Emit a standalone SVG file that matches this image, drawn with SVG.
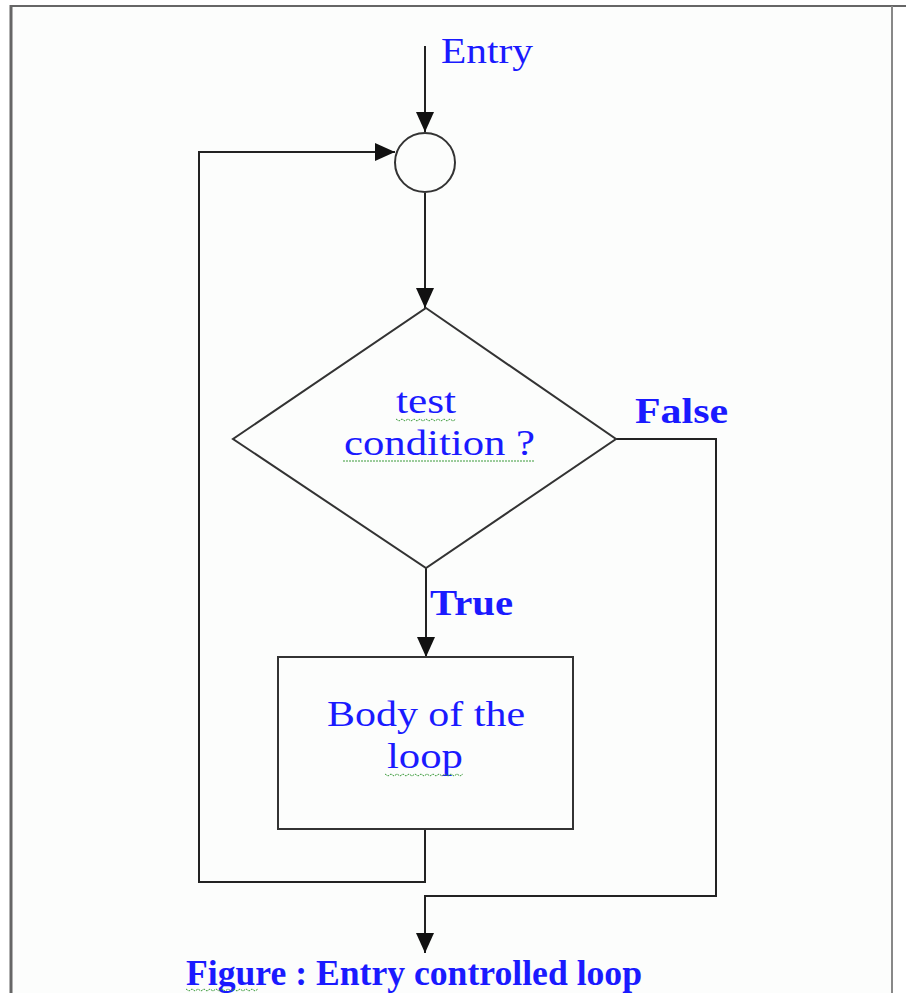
<svg xmlns="http://www.w3.org/2000/svg" width="906" height="993" viewBox="0 0 906 993">
<defs>
<marker id="arr" markerUnits="userSpaceOnUse" markerWidth="20" markerHeight="18" refX="20" refY="9" orient="auto">
<path d="M0,0 L20,9 L0,18 z" fill="#111"/>
</marker>
<style>
.ln{fill:none;stroke:#222;stroke-width:2}
.shape{fill:none;stroke:#333;stroke-width:2}
.t{font-family:"Liberation Serif","Times New Roman",serif;fill:#1a1aff;font-size:36px}
.b{font-weight:bold}
.sq{fill:none;stroke:#3a9a3a;stroke-width:1;stroke-dasharray:2 1}
</style>
</defs>
<rect x="0" y="0" width="906" height="993" fill="#ffffff"/>
<rect x="11" y="6" width="881" height="987" fill="#fcfdfc"/>
<g id="frame">
<line x1="10" y1="6" x2="906" y2="6" stroke="#666" stroke-width="2"/>
<line x1="11" y1="5" x2="11" y2="993" stroke="#666" stroke-width="3"/>
<line x1="892" y1="6" x2="892" y2="993" stroke="#888" stroke-width="2"/>
</g>
<g id="connectors">
<line class="ln" x1="425" y1="46" x2="425" y2="132" marker-end="url(#arr)"/>
<line class="ln" x1="425" y1="193" x2="425" y2="308" marker-end="url(#arr)"/>
<line class="ln" x1="426" y1="568" x2="426" y2="657" marker-end="url(#arr)"/>
<polyline class="ln" points="425,830 425,882 199,882 199,152 395,152" marker-end="url(#arr)"/>
<polyline class="ln" points="616,439 716,439 716,896 425,896 425,953" marker-end="url(#arr)"/>
</g>
<g id="entry-label">
<text class="t" x="441" y="63" font-size="38" textLength="92" lengthAdjust="spacingAndGlyphs">Entry</text>
</g>
<g id="junction">
<ellipse class="shape" cx="425" cy="162.5" rx="30" ry="29.5"/>
</g>
<g id="decision">
<polygon class="shape" points="426,308 616,439 426,568 233,439"/>
<text class="t" x="396" y="413" textLength="60" lengthAdjust="spacingAndGlyphs">test</text>
<text class="t" x="344" y="455" textLength="191" lengthAdjust="spacingAndGlyphs">condition ?</text>
<path class="sq" d="M396,419 l3,2 l3,-2 l3,2 l3,-2 l3,2 l3,-2 l3,2 l3,-2 l3,2 l3,-2 l3,2 l3,-2 l3,2 l3,-2 l3,2 l3,-2 l3,2 l3,-2 l3,2 l3,-2"/>
<line class="sq" x1="343" y1="461" x2="535" y2="461" stroke-width="2"/>
</g>
<g id="false-label">
<text class="t b" x="635" y="423" font-size="38" textLength="93" lengthAdjust="spacingAndGlyphs">False</text>
</g>
<g id="true-label">
<text class="t b" x="430" y="615" font-size="38" textLength="83" lengthAdjust="spacingAndGlyphs">True</text>
</g>
<g id="body">
<rect class="shape" x="278" y="657" width="295" height="172"/>
<text class="t" x="327" y="726" font-size="38" textLength="198" lengthAdjust="spacingAndGlyphs">Body of the</text>
<text class="t" x="387" y="768" font-size="38" textLength="76" lengthAdjust="spacingAndGlyphs">loop</text>
<path class="sq" d="M385,774 l3,2 l3,-2 l3,2 l3,-2 l3,2 l3,-2 l3,2 l3,-2 l3,2 l3,-2 l3,2 l3,-2 l3,2 l3,-2 l3,2 l3,-2 l3,2 l3,-2 l3,2 l3,-2 l3,2 l3,-2 l3,2 l3,-2 l3,2 l3,-2"/>
</g>
<g id="caption">
<text class="t b" x="186" y="985" font-size="30" textLength="456" lengthAdjust="spacingAndGlyphs">Figure : Entry controlled loop</text>
<path class="sq" d="M186,989 l3,2 l3,-2 l3,2 l3,-2 l3,2 l3,-2 l3,2 l3,-2 l3,2 l3,-2 l3,2 l3,-2 l3,2 l3,-2 l3,2 l3,-2 l3,2 l3,-2 l3,2 l3,-2 l3,2 l3,-2 l3,2 l3,-2"/>
</g>
</svg>
